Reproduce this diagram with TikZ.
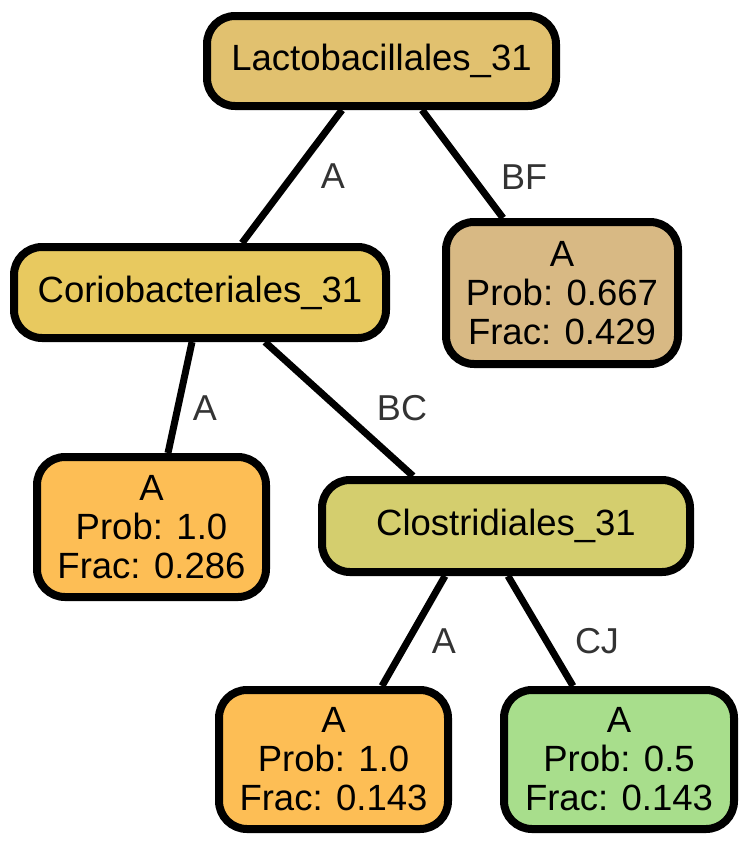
\documentclass[tikz,border=0pt]{standalone}
\usepackage{fontspec}
\setmainfont{Liberation Sans}
\usepackage{xcolor}
\usepackage{tikz}
\usetikzlibrary{backgrounds}
\definecolor{lactofill}{HTML}{E1C16F}
\definecolor{coriofill}{HTML}{E8C95F}
\definecolor{closfill}{HTML}{D4CE6E}
\definecolor{tanfill}{HTML}{D8B984}
\definecolor{orangefill}{HTML}{FDBE55}
\definecolor{greenfill}{HTML}{A8DE8C}
\definecolor{labelgrey}{HTML}{333333}
\tikzset{
  taxon/.style={draw=black,line width=8pt,rounded corners=28pt,inner sep=0pt,
                align=center,font=\fontsize{36.5}{39}\selectfont},
  leaf/.style={taxon,minimum width=229pt,minimum height=139pt},
  branch/.style={line width=7pt,black},
  elabel/.style={inner sep=0pt,text=labelgrey,font=\fontsize{36}{38}\selectfont},
}
\newcommand{\leaftext}[2]{A\\Prob: #1\\Frac: #2}

\begin{document}
\begin{tikzpicture}[x=1pt,y=-1pt]
  \useasboundingbox (0,0) rectangle (750,846);
  % internal nodes
  \node[taxon,fill=lactofill,minimum width=349pt,minimum height=90pt]
    (lacto) at (381.5,61) {Lactobacillales\_31};
  \node[taxon,fill=coriofill,minimum width=372pt,minimum height=91pt]
    (corio) at (200,292.5) {Coriobacteriales\_31};
  \node[taxon,fill=closfill,minimum width=368pt,minimum height=92pt]
    (clos) at (506,526) {Clostridiales\_31};
  % leaves
  \node[leaf,fill=tanfill,minimum width=232pt,minimum height=142pt]
    (leafbf) at (562,293) {\leaftext{0.667}{0.429}};
  \node[leaf,fill=orangefill,minimum height=140pt]
    (leafa) at (151.5,527) {\leaftext{1.0}{0.286}};
  \node[leaf,fill=orangefill]
    (leafaa) at (333.5,759.5) {\leaftext{1.0}{0.143}};
  \node[leaf,fill=greenfill,minimum width=230pt]
    (leafcj) at (619,759.5) {\leaftext{0.5}{0.143}};
  % branches
  \begin{scope}[on background layer]
    \draw[branch]([xshift=-39.5pt]lacto.south)--([xshift=42pt]corio.north);
    \draw[branch]([xshift=40.5pt]lacto.south)--([xshift=-59pt]leafbf.north);
    \draw[branch]([xshift=-8pt]corio.south)--([xshift=16.5pt]leafa.north);
    \draw[branch]([xshift=65pt]corio.south)--([xshift=-93pt]clos.north);
    \draw[branch]([xshift=-61pt]clos.south)--([xshift=48.5pt]leafaa.north);
    \draw[branch]([xshift=2pt]clos.south)--([xshift=-46pt]leafcj.north);
  \end{scope}
  % branch labels
  \node[elabel] (la1) at (333,176) {A};
  \node[elabel] (lbf) at (524,177) {BF};
  \node[elabel] (la2) at (205,408) {A};
  \node[elabel] (lbc) at (402,408) {BC};
  \node[elabel] (la3) at (444,641) {A};
  \node[elabel] (lcj) at (597,641) {CJ};
\end{tikzpicture}
\end{document}
